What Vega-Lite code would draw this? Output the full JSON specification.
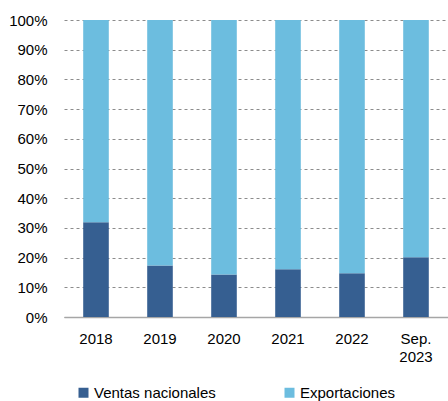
{
  "$schema": "https://vega.github.io/schema/vega-lite/v6.json",
  "autosize": {"type": "none"},
  "width": 384,
  "height": 297,
  "padding": {"left": 64, "top": 20, "right": 0, "bottom": 84},
  "background": "white",
  "config": {
    "view": {"stroke": null},
    "font": "Liberation Sans"
  },
  "data": {
    "values": [
      {"periodo": "2018", "serie": "Ventas nacionales", "valor": 31.9, "orden": 1},
      {"periodo": "2018", "serie": "Exportaciones", "valor": 68.1, "orden": 2},
      {"periodo": "2019", "serie": "Ventas nacionales", "valor": 17.3, "orden": 1},
      {"periodo": "2019", "serie": "Exportaciones", "valor": 82.7, "orden": 2},
      {"periodo": "2020", "serie": "Ventas nacionales", "valor": 14.3, "orden": 1},
      {"periodo": "2020", "serie": "Exportaciones", "valor": 85.7, "orden": 2},
      {"periodo": "2021", "serie": "Ventas nacionales", "valor": 16.1, "orden": 1},
      {"periodo": "2021", "serie": "Exportaciones", "valor": 83.9, "orden": 2},
      {"periodo": "2022", "serie": "Ventas nacionales", "valor": 14.7, "orden": 1},
      {"periodo": "2022", "serie": "Exportaciones", "valor": 85.3, "orden": 2},
      {"periodo": "Sep. 2023", "serie": "Ventas nacionales", "valor": 20.1, "orden": 1},
      {"periodo": "Sep. 2023", "serie": "Exportaciones", "valor": 79.9, "orden": 2}
    ]
  },
  "mark": {"type": "bar"},
  "encoding": {
    "x": {
      "field": "periodo",
      "type": "nominal",
      "sort": null,
      "scale": {"paddingInner": 0.6, "paddingOuter": 0.3},
      "axis": {
        "title": null,
        "labelAngle": 0,
        "labelFontSize": 15,
        "labelColor": "#000000",
        "labelPadding": 14,
        "labelLineHeight": 18,
        "ticks": false,
        "domainColor": "#a6a6a6",
        "domainWidth": 1.5,
        "labelExpr": "datum.label == 'Sep. 2023' ? ['Sep.', '2023'] : datum.label"
      }
    },
    "y": {
      "field": "valor",
      "type": "quantitative",
      "stack": "zero",
      "scale": {"domain": [0, 100]},
      "axis": {
        "title": null,
        "values": [0, 10, 20, 30, 40, 50, 60, 70, 80, 90, 100],
        "labelExpr": "datum.value + '%'",
        "labelFontSize": 15,
        "labelColor": "#000000",
        "labelPadding": 17,
        "ticks": false,
        "domain": false,
        "grid": true,
        "gridColor": "#8c8c8c",
        "gridDash": [3, 3],
        "gridWidth": 1
      }
    },
    "color": {
      "field": "serie",
      "type": "nominal",
      "scale": {
        "domain": ["Ventas nacionales", "Exportaciones"],
        "range": ["#365f91", "#6cbddf"]
      },
      "legend": {
        "title": null,
        "orient": "none",
        "legendX": 12,
        "legendY": 365,
        "direction": "horizontal",
        "symbolType": "square",
        "symbolSize": 100,
        "symbolStrokeWidth": 0,
        "labelFontSize": 15,
        "labelColor": "#000000",
        "labelOffset": 3,
        "columnPadding": 66
      }
    },
    "order": {"field": "orden", "type": "quantitative"}
  }
}
